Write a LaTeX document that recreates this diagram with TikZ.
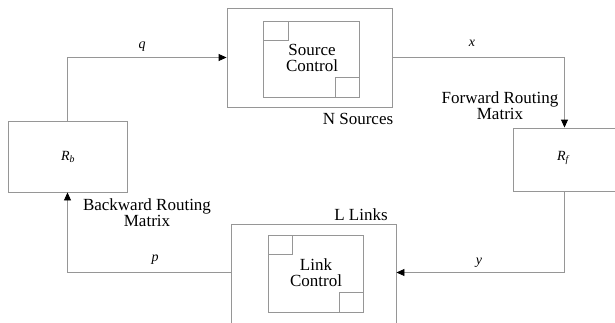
\documentclass[tikz,border=0pt]{standalone}
\usepackage{fontspec}
\setmainfont{Liberation Serif}
\usetikzlibrary{arrows.meta}
\definecolor{linegray}{RGB}{150,150,150}
\tikzset{
  box/.style={draw=linegray, line width=0.9pt, rectangle, inner sep=0pt},
  conn/.style={draw=linegray, line width=0.9pt},
  arr/.style={conn, -{Triangle[length=8pt,width=7pt,color=black,fill=black]}},
  lbl/.style={font=\fontsize{17}{16}\selectfont, align=center, inner sep=0pt},
  var/.style={font=\fontsize{14}{14}\selectfont\itshape, inner sep=0pt}
}
\begin{document}
\begin{tikzpicture}[x=1pt,y=-1pt]
\useasboundingbox (0,0) rectangle (615,322);
% Source block
\node[box, minimum width=165pt, minimum height=99pt] (src) at (309.5,57.5) {};
\node[box, minimum width=96pt, minimum height=76pt] (srcin) at (311,59) {};
\node[box, minimum width=25pt, minimum height=19pt] (srcsq1) at (275.5,30.5) {};
\node[box, minimum width=24pt, minimum height=20pt] (srcsq2) at (347,87) {};
\node[lbl] (srctxt) at (312,58) {Source\\Control};
\node[lbl] (nsrc) at (358,119) {N Sources};
% Link block
\node[box, minimum width=165pt, minimum height=112pt] (lnk) at (313.5,280) {};
\node[box, minimum width=95pt, minimum height=77pt] (lnkin) at (315.5,273.5) {};
\node[box, minimum width=24pt, minimum height=19pt] (lnksq1) at (280,244.5) {};
\node[box, minimum width=24pt, minimum height=20pt] (lnksq2) at (351,302) {};
\node[lbl] (lnktxt) at (316,273) {Link\\Control};
\node[lbl] (llinks) at (361,215) {L Links};
% Routing matrices
\node[box, minimum width=119pt, minimum height=71pt] (Rb) at (67.5,156.5) {};
\node[var] (Rbtxt) at (68,157) {R\textsubscript{\itshape b}};
\node[box, minimum width=103pt, minimum height=63pt] (Rf) at (564.5,159.5) {};
\node[var] (Rftxt) at (563,158) {R\textsubscript{\itshape f}};
\node[lbl] (fwd) at (500,106) {Forward Routing\\Matrix};
\node[lbl] (bwd) at (147,213) {Backward Routing\\Matrix};
% Connectors
\coordinate (ylev) at (0,272.5);
\draw[arr] (Rb.north) |- (src.west);
\draw[arr] (src.east) -| (Rf.north);
\draw[arr] (Rf.south) |- (lnk.east |- ylev);
\draw[arr] (lnk.west |- ylev) -| (Rb.south);
% Variable labels
\node[var] (q) at (142,47) {q};
\node[var] (x) at (472,43) {x};
\node[var] (y) at (479,263) {y};
\node[var] (p) at (155,260) {p};
\end{tikzpicture}
\end{document}
